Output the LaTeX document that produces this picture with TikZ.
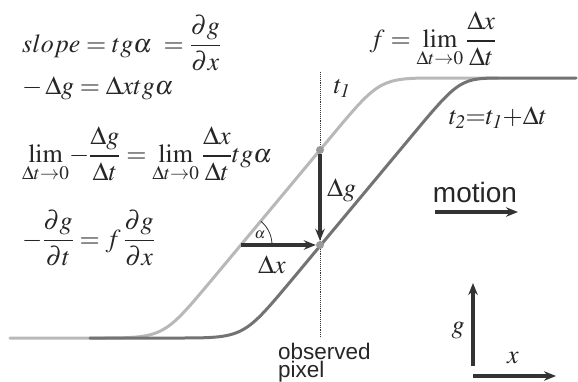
\documentclass[tikz,border=0pt]{standalone}
\usepackage{amsmath}
\usepackage{mathptmx}
\usepackage{fontspec}
\newfontfamily\labelfont{Liberation Sans}
\usepackage{tikz}
\usetikzlibrary{arrows.meta}

\begin{document}
\begin{tikzpicture}[x=1pt, y=-1pt]
        \tikzstyle{formula} = [anchor=west, inner sep=0pt, text=black!85, font=\fontsize{26}{30}\selectfont]
        \tikzstyle{lbl} = [inner sep=0pt, text=black!85, font=\fontsize{26}{30}\selectfont]
        \tikzstyle{curve} = [line width=3pt, line cap=round]
        \tikzstyle{arr} = [-{Stealth[length=12pt, width=9.5pt]}, line width=3.2pt, black!80]
        \tikzstyle{dot} = [circle, fill=black!40, minimum size=8pt, inner sep=0pt]
        \useasboundingbox (0,0) rectangle (578,381);
        % formulas
        \node[formula] (slope) at (22,43) {$slope = tg\alpha\; = \dfrac{\partial g}{\partial x}$};
        \node[formula] (dg) at (22,88) {$-\,\Delta g = \Delta x tg\alpha$};
        \node[formula] (lim) at (22,155) {$\displaystyle\lim_{\Delta t\to 0}\!-\frac{\Delta g}{\Delta t} = \lim_{\Delta t\to 0}\frac{\Delta x}{\Delta t}tg\alpha$};
        \node[formula] (pde) at (22,238) {$-\dfrac{\partial g}{\partial t} = f\,\dfrac{\partial g}{\partial x}$};
        \node[lbl] (flim) at (433,40) {$\displaystyle f = \lim_{\Delta t\to 0}\frac{\Delta x}{\Delta t}$};
        % profiles
        \draw[curve, black!28] (10,338) -- (95,338) .. controls (163,338) .. (210,282) -- (330,138) .. controls (380,78) .. (440,78) -- (498,78);
        \draw[curve, black!55] (90,338) -- (175,338) .. controls (243,338) .. (290,282) -- (410,138) .. controls (460,78) .. (505,78) -- (576,78);
        \node[lbl] (t1) at (342,88) {$t_{\mathit{1}}$};
        \node[lbl] (t2) at (498,118) {$t_{\mathit{2}}{=}t_{\mathit{1}}{+}\Delta t$};
        % observed pixel
        \coordinate (ptop) at (320,72);
        \coordinate (pbot) at (320,338);
        \draw[densely dotted, line width=0.9pt, black!80] (ptop) -- (pbot);
        \node[anchor=north west, inner sep=0pt, align=left, text=black!85, font=\labelfont\fontsize{22.5}{15}\selectfont] (pix) at (278,343) {observed\\pixel};
        \node[dot] (top) at (320,150) {};
        \node[dot] (bot) at (320,245) {};
        \coordinate (a0) at (241,245);
        \draw[arr] (top) -- (bot);
        \draw[arr] (a0) -- (bot);
        \draw[line width=0.8pt, black!80] (272,245) arc[start angle=0, end angle=-50.2, radius=31];
        \node[lbl, font=\fontsize{15}{16}\selectfont] (alpha) at (260,235) {$\alpha$};
        \node[lbl] (dx) at (272,265) {$\Delta x$};
        \node[lbl, anchor=west] (dglbl) at (327,190) {$\Delta g$};
        % motion
        \node[inner sep=0pt, text=black!85, font=\labelfont\fontsize{28}{30}\selectfont] (motion) at (475,192) {motion};
        \coordinate (m0) at (435,212);
        \coordinate (m1) at (518,212);
        \draw[arr] (m0) -- (m1);
        % axes
        \coordinate (o) at (473,366);
        \coordinate (gend) at (473,283);
        \coordinate (xo) at (473,376);
        \coordinate (xend) at (556,376);
        \draw[arr] (o) -- (gend);
        \draw[arr] (xo) -- (xend);
        \node[lbl] (g) at (458,330) {$g$};
        \node[lbl] (x) at (513,358) {$x$};
      \end{tikzpicture}
\end{document}
